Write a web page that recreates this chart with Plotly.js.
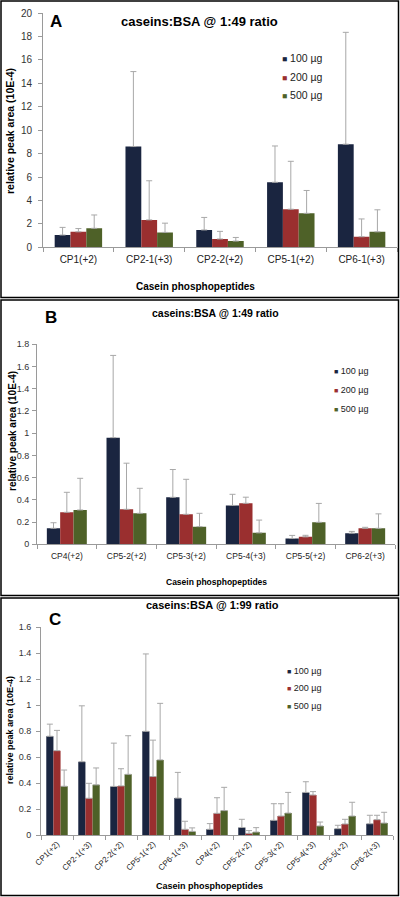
<!DOCTYPE html>
<html>
<head>
<meta charset="utf-8">
<script src="https://cdn.plot.ly/plotly-3.0.1.min.js"></script>
<style>html,body{margin:0;padding:0;background:#fff}#chart{width:400px;height:897px}</style>
</head>
<body>
<div id="chart"></div>
<script>
// ---------- DATA ----------
const seriesNames = ['100 µg', '200 µg', '500 µg'];
const seriesColors = ['#1a2540', '#9a2f2f', '#4e6128'];

// Panel A: caseins:BSA @ 1:49 ratio
const catsA = ['CP1(+2)', 'CP2-1(+3)', 'CP2-2(+2)', 'CP5-1(+2)', 'CP6-1(+3)'];
const A100 = [1.05, 8.6, 1.48, 5.55, 8.8];
const A200 = [1.32, 2.34, 0.71, 3.25, 0.9];
const A500 = [1.62, 1.27, 0.53, 2.9, 1.32];
const A100err = [0.65, 6.4, 1.07, 3.1, 9.55];
const A200err = [0.28, 3.34, 0.65, 4.09, 1.52];
const A500err = [1.14, 0.79, 0.31, 1.95, 1.88];

// Panel B: caseins:BSA @ 1:49 ratio
const catsB = ['CP4(+2)', 'CP5-2(+2)', 'CP5-3(+2)', 'CP5-4(+3)', 'CP5-5(+2)', 'CP6-2(+3)'];
const B100 = [0.144, 0.96, 0.423, 0.35, 0.052, 0.10];
const B200 = [0.288, 0.315, 0.27, 0.369, 0.067, 0.144];
const B500 = [0.309, 0.279, 0.159, 0.103, 0.198, 0.144];
const B100err = [0.05, 0.74, 0.25, 0.10, 0.028, 0.016];
const B200err = [0.18, 0.415, 0.315, 0.055, 0.014, 0.009];
const B500err = [0.285, 0.225, 0.12, 0.115, 0.17, 0.13];

// Panel C: caseins:BSA @ 1:99 ratio
const catsC = ['CP1(+2)', 'CP2-1(+3)', 'CP2-2(+2)', 'CP5-1(+2)', 'CP6-1(+3)', 'CP4(+2)',
               'CP5-2(+2)', 'CP5-3(+2)', 'CP5-4(+3)', 'CP5-5(+2)', 'CP6-2(+3)'];
const C100 = [0.762, 0.566, 0.376, 0.80, 0.286, 0.046, 0.06, 0.115, 0.33, 0.051, 0.089];
const C200 = [0.651, 0.285, 0.38, 0.452, 0.046, 0.169, 0.015, 0.148, 0.31, 0.087, 0.12];
const C500 = [0.377, 0.388, 0.469, 0.58, 0.03, 0.19, 0.025, 0.171, 0.072, 0.148, 0.094];
const C100err = [0.093, 0.43, 0.333, 0.595, 0.198, 0.044, 0.063, 0.128, 0.082, 0.026, 0.065];
const C200err = [0.156, 0.115, 0.132, 0.28, 0.062, 0.12, 0.021, 0.095, 0.026, 0.036, 0.034];
const C500err = [0.125, 0.13, 0.297, 0.435, 0.027, 0.179, 0.034, 0.159, 0.03, 0.106, 0.083];

const titleA = 'caseins:BSA @ 1:49 ratio';
const titleB = 'caseins:BSA @ 1:49 ratio';
const titleC = 'caseins:BSA @ 1:99 ratio';
const yTitle = 'relative peak area (10E-4)';
const xTitle = 'Casein phosphopeptides';

// ---------- HELPERS ----------
const W = 400, H = 897;
const px = v => v / W;
const py = v => 1 - v / H;
const FONT = 'Liberation Sans, Arial, sans-serif';

function bar(cats, vals, errs, i, xa, ya) {
  return {
    type: 'bar', x: cats, y: vals, name: seriesNames[i],
    marker: { color: seriesColors[i], line: { width: 0 } },
    error_y: { type: 'data', symmetric: false, array: errs, arrayminus: errs.map(() => 0),
               color: '#a8a8a8', thickness: 1, width: 3 },
    xaxis: xa, yaxis: ya, showlegend: false, hoverinfo: 'skip'
  };
}

const data = [
  bar(catsA, A100, A100err, 0, 'x', 'y'),
  bar(catsA, A200, A200err, 1, 'x', 'y'),
  bar(catsA, A500, A500err, 2, 'x', 'y'),
  bar(catsB, B100, B100err, 0, 'x2', 'y2'),
  bar(catsB, B200, B200err, 1, 'x2', 'y2'),
  bar(catsB, B500, B500err, 2, 'x2', 'y2'),
  bar(catsC, C100, C100err, 0, 'x3', 'y3'),
  bar(catsC, C200, C200err, 1, 'x3', 'y3'),
  bar(catsC, C500, C500err, 2, 'x3', 'y3')
];

function xax(d0, d1, anchor, size, extra) {
  return Object.assign({
    domain: [px(d0), px(d1)], anchor: anchor, type: 'category',
    showline: true, linecolor: '#9a9a9a', linewidth: 1,
    ticks: 'outside', tickson: 'boundaries', ticklen: 4, tickcolor: '#9a9a9a',
    tickfont: { family: FONT, size: size, color: '#222' },
    showgrid: false, zeroline: false, fixedrange: true
  }, extra || {});
}
function yax(top, bottom, anchor, range, dtick, size, standoff) {
  return {
    domain: [py(bottom), py(top)], anchor: anchor, range: range, dtick: dtick, tick0: 0,
    showline: true, linecolor: '#9a9a9a', linewidth: 1,
    ticks: 'outside', ticklen: 4, tickcolor: '#9a9a9a',
    tickfont: { family: FONT, size: size, color: '#333' },
    ticklabelstandoff: standoff,
    showgrid: false, zeroline: false, fixedrange: true
  };
}

const annotations = [];
function txt(text, x, y, size, opts) {
  annotations.push(Object.assign({
    text: text, x: px(x), y: py(y), xref: 'paper', yref: 'paper',
    showarrow: false, xanchor: 'center', yanchor: 'middle',
    font: { family: FONT, size: size, color: '#000' }
  }, opts || {}));
}
// titles & panel letters
txt('<b>' + titleA + '</b>', 199, 22, 13);
txt('<b>' + titleB + '</b>', 215, 313, 10.5);
txt('<b>' + titleC + '</b>', 212, 605, 11);
txt('<b>A</b>', 56, 22, 17);
txt('<b>B</b>', 51, 317, 17);
txt('<b>C</b>', 55, 619, 17);
// axis titles
txt('<b>' + yTitle + '</b>', 10, 131, 10.5, { textangle: -90 });
txt('<b>' + yTitle + '</b>', 12, 431, 10, { textangle: -90 });
txt('<b>' + yTitle + '</b>', 10, 730, 9, { textangle: -90 });
txt('<b>' + xTitle + '</b>', 195, 286, 10);
txt('<b>' + xTitle + '</b>', 216, 582, 8.5);
txt('<b>' + xTitle + '</b>', 209, 886, 9);
// legends
function legend(x, ys, size) {
  seriesNames.forEach((n, i) => {
    txt('<span style="color:' + seriesColors[i] + ';font-size:' + (size - 2) + 'px">■</span> ' + n,
        x, ys[i], size, { xanchor: 'left', font: { family: FONT, size: size, color: '#222' } });
  });
}
legend(280, [58, 77, 95], 10.5);
legend(332, [371, 390, 409], 9);
legend(285, [671, 688, 706], 9);

const border = (y0, y1) => ({
  type: 'rect', xref: 'paper', yref: 'paper',
  x0: px(1), x1: px(398.5), y0: py(y1), y1: py(y0),
  line: { color: '#000', width: 1.5 }
});

const layout = {
  width: W, height: H, margin: { l: 0, r: 0, t: 0, b: 0 },
  paper_bgcolor: '#fff', plot_bgcolor: 'rgba(0,0,0,0)',
  barmode: 'group', bargap: 0.33, bargroupgap: 0,
  showlegend: false,
  font: { family: FONT },
  xaxis: xax(43, 397, 'y', 10, { ticklabelstandoff: 3 }),
  yaxis: yax(13, 247.3, 'x', [0, 20], 2, 10, 4),
  xaxis2: xax(37, 395, 'y2', 8.5, { ticklabelstandoff: 3 }),
  yaxis2: yax(344.3, 544.3, 'x2', [0, 1.8], 0.2, 9, 1),
  xaxis3: xax(41, 393, 'y3', 8, { tickangle: -45 }),
  yaxis3: yax(627.3, 835.3, 'x3', [0, 1.6], 0.2, 9, 3),
  annotations: annotations,
  shapes: [border(1, 297.5), border(300, 595.5), border(598, 895.5)]
};

Plotly.newPlot('chart', data, layout, { staticPlot: true, displayModeBar: false });
</script>
</body>
</html>
